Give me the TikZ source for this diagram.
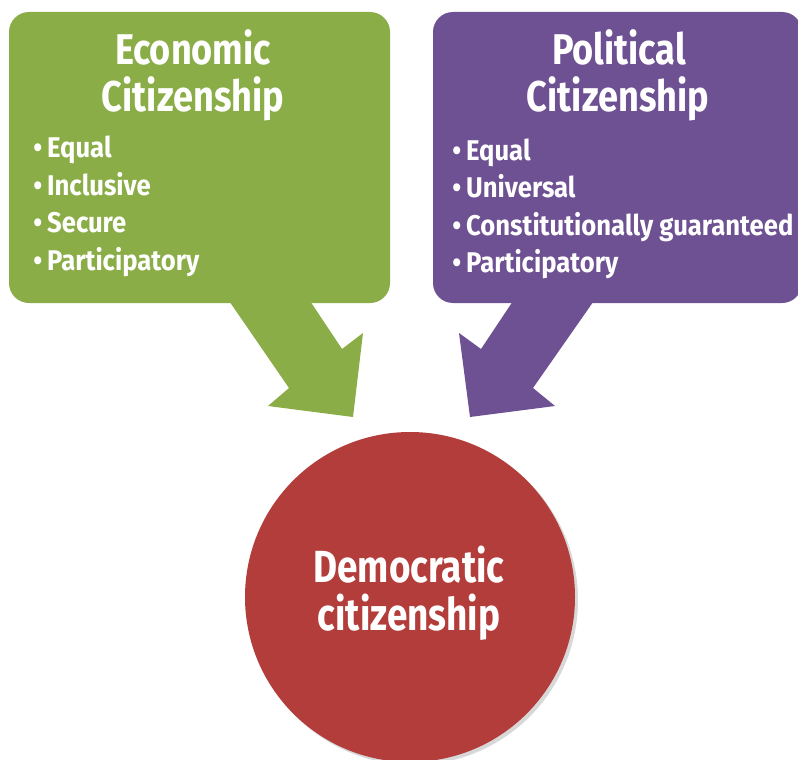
\documentclass[tikz,border=0pt]{standalone}
\usepackage{fontspec}
\setmainfont{Fira Sans}[FakeStretch=0.84]
\newfontfamily\bulletfont{Fira Sans}[FakeStretch=0.9]
\newfontfamily\circfont{Fira Sans}[FakeStretch=0.82]
\definecolor{ecogreen}{HTML}{8BAD47}
\definecolor{polpurple}{HTML}{6E5192}
\definecolor{demred}{HTML}{B33D3B}
\newcommand{\bul}{\llap{\textbullet\hspace{5pt}}}
\tikzset{
  titletext/.style={anchor=base, text=white, inner sep=0pt, font=\fontsize{43}{46}\selectfont\bfseries},
  bullettext/.style={anchor=base west, text=white, inner sep=0pt, font=\bulletfont\fontsize{28.5}{30}\selectfont\bfseries},
  circletext/.style={anchor=base, text=white, inner sep=0pt, font=\circfont\fontsize{45}{48}\selectfont\bfseries},
  panel/.style={rounded corners=20pt},
}
\begin{document}
\begin{tikzpicture}[x=1pt,y=-1pt]
\useasboundingbox (0,0) rectangle (798,760);
\fill[white] (0,0) rectangle (798,760);
% arrows
\fill[ecogreen] (225,295) -- (289,388) -- (268,406) -- (353,417) -- (363,333) -- (342,349) -- (306,295) -- cycle;
\fill[polpurple] (517,295) -- (481,349) -- (459,333) -- (470,417) -- (555,406) -- (533,388) -- (598,295) -- cycle;
% boxes
\fill[ecogreen, panel] (9,12) rectangle (390,303);
\fill[polpurple, panel] (433,12) rectangle (802,303);
% circle
\fill[black!25, opacity=0.6] (413,600) circle (165);
\fill[demred] (410,597) circle (165);
\node[coordinate] (dem) at (410,597) {};
% texts
\node[titletext] (eco1) at (193,65) {Economic};
\node[titletext] (eco2) at (193,111) {Citizenship};
\node[bullettext] (e1) at (47,157) {\bul Equal};
\node[bullettext] (e2) at (47,195) {\bul Inclusive};
\node[bullettext] (e3) at (47,232) {\bul Secure};
\node[bullettext] (e4) at (47,270) {\bul Participatory};
\node[titletext] (pol1) at (619,65) {Political};
\node[titletext] (pol2) at (618,111) {Citizenship};
\node[bullettext] (p1) at (466,160) {\bul Equal};
\node[bullettext] (p2) at (466,197) {\bul Universal};
\node[bullettext] (p3) at (466,235) {\bul Constitutionally guaranteed};
\node[bullettext] (p4) at (466,272) {\bul Participatory};
\node[circletext] (d1) at (409,582) {Democratic};
\node[circletext] (d2) at (409,630) {citizenship};
\end{tikzpicture}
\end{document}
